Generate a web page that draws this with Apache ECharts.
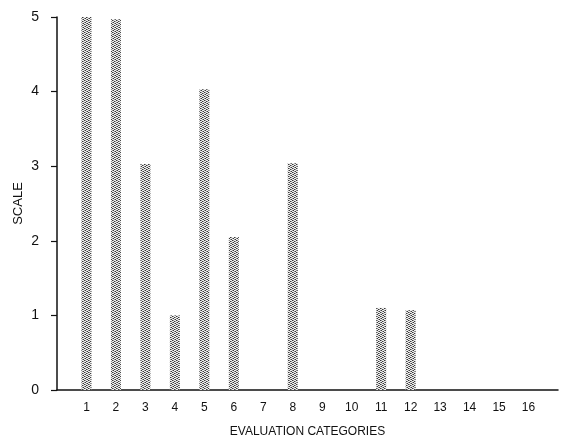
<!DOCTYPE html>
<html>
<head>
<meta charset="utf-8">
<script src="https://cdn.jsdelivr.net/npm/echarts@6/dist/echarts.min.js"></script>
<style>
  html, body { margin: 0; padding: 0; background: #fff; }
  #chart { width: 561px; height: 443px; }
</style>
</head>
<body>
<div id="chart"></div>
<script>
// Evaluation categories and their scale scores
const categories = [1, 2, 3, 4, 5, 6, 7, 8, 9, 10, 11, 12, 13, 14, 15, 16];
const scores = [5, 4.97, 3.03, 1.0, 4.03, 2.05, 0, 3.04, 0, 0, 1.1, 1.07, 0, 0, 0, 0];
const scaleTicks = [0, 1, 2, 3, 4, 5];

// Stippled grey fill for the bars
function stipple() {
  const c = document.createElement('canvas');
  c.width = 4; c.height = 4;
  const ctx = c.getContext('2d');
  ctx.fillStyle = '#eeeeee';
  ctx.fillRect(0, 0, 4, 4);
  ctx.fillStyle = '#3a3a3a';
  [[0, 0], [2, 1], [1, 2], [3, 3]].forEach(p => ctx.fillRect(p[0], p[1], 1, 1));
  ctx.fillStyle = '#8e8e8e';
  [[1, 0], [3, 1], [0, 2], [2, 3]].forEach(p => ctx.fillRect(p[0], p[1], 1, 1));
  return c;
}

const chart = echarts.init(document.getElementById('chart'), null, { renderer: 'canvas' });
const font = 'Liberation Sans, Arial, sans-serif';

chart.setOption({
  animation: false,
  backgroundColor: '#fff',
  grid: { left: 57, top: 17, width: 503, height: 373, containLabel: false },
  xAxis: {
    type: 'value',
    min: 0,
    max: 17,
    interval: 1,
    name: 'EVALUATION CATEGORIES',
    nameLocation: 'middle',
    nameGap: 36,
    nameTextStyle: { color: '#111', fontSize: 12, fontFamily: font },
    axisLine: { show: true, onZero: false, lineStyle: { color: '#111', width: 1.5 } },
    axisTick: { show: false },
    splitLine: { show: false },
    axisLabel: {
      color: '#111', fontSize: 12, fontFamily: font, margin: 12,
      formatter: v => (categories.indexOf(v) >= 0 ? String(v) : '')
    }
  },
  yAxis: {
    type: 'value',
    min: scaleTicks[0],
    max: scaleTicks[scaleTicks.length - 1],
    interval: 1,
    offset: 4,
    name: 'SCALE',
    nameLocation: 'middle',
    nameGap: 28,
    nameMoveOverlap: false,
    nameRotate: 90,
    nameTextStyle: { color: '#111', fontSize: 13, fontFamily: font },
    axisLine: { show: true, lineStyle: { color: '#111', width: 1.5 } },
    axisTick: { show: true, length: 6, lineStyle: { color: '#111', width: 1.2 } },
    splitLine: { show: false },
    axisLabel: { color: '#111', fontSize: 14, fontFamily: font, margin: 14 }
  },
  series: [{
    type: 'bar',
    barWidth: 10,
    data: categories.map((c, i) => [c, scores[i]]),
    itemStyle: { color: { image: stipple(), repeat: 'repeat' } }
  }]
});
</script>
</body>
</html>
